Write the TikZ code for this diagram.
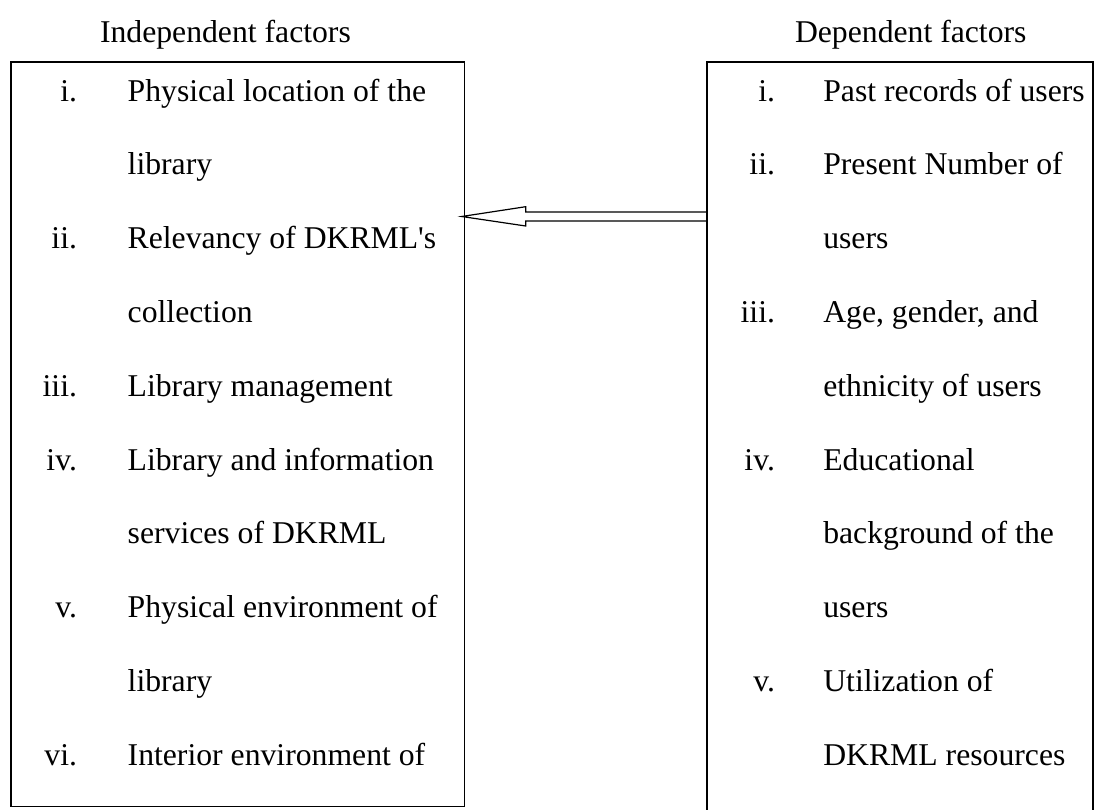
\documentclass[tikz,border=0pt]{standalone}
\usepackage{fontspec}
\setmainfont{Liberation Serif}[Ligatures=TeXOff]
\usetikzlibrary{fit,calc}
\begin{document}
\begin{tikzpicture}[x=0.5pt,y=-0.5pt,
  every node/.style={inner sep=0pt, outer sep=0pt},
  txt/.style={anchor=base west, font=\fontsize{15.85}{19}\selectfont},
  num/.style={anchor=base east, font=\fontsize{15.85}{19}\selectfont},
  boxframe/.style={draw, line width=0.6pt, inner sep=0pt},
  hollow/.style={draw, line width=0.6pt, line join=miter}]
\useasboundingbox (0,0) rectangle (1096,809);
\clip (0,0) rectangle (1096,809);

% titles
\node[txt] (ltitle) at (100,42) {Independent factors};
\node[txt] (rtitle) at (795,42) {Dependent factors};

% boxes
\node[boxframe, fit={(11,62) (464.7,806.5)}] (lbox) {};
\node[boxframe, fit={(707,62) (1093,830)}] (rbox) {};

% left list
\node[num] (ln1) at (77,101) {i.};
\node[txt] (lt1) at (127.7,101) {Physical location of the};
\node[txt] (lt1b) at (127.7,174.8) {library};
\node[num] (ln2) at (77,248.6) {ii.};
\node[txt] (lt2) at (127.7,248.6) {Relevancy of DKRML's};
\node[txt] (lt2b) at (127.7,322.4) {collection};
\node[num] (ln3) at (77,396.2) {iii.};
\node[txt] (lt3) at (127.7,396.2) {Library management};
\node[num] (ln4) at (77,470) {iv.};
\node[txt] (lt4) at (127.7,470) {Library and information};
\node[txt] (lt4b) at (127.7,543.8) {services of DKRML};
\node[num] (ln5) at (77,617.6) {v.};
\node[txt] (lt5) at (127.7,617.6) {Physical environment of};
\node[txt] (lt5b) at (127.7,691.4) {library};
\node[num] (ln6) at (77,765.2) {vi.};
\node[txt] (lt6) at (127.7,765.2) {Interior environment of};

% right list
\node[num] (rn1) at (775,101) {i.};
\node[txt] (rt1) at (823.3,101) {Past records of users};
\node[num] (rn2) at (775,174.8) {ii.};
\node[txt] (rt2) at (823.3,174.8) {Present Number of};
\node[txt] (rt2b) at (823.3,248.6) {users};
\node[num] (rn3) at (775,322.4) {iii.};
\node[txt] (rt3) at (823.3,322.4) {Age, gender, and};
\node[txt] (rt3b) at (823.3,396.2) {ethnicity of users};
\node[num] (rn4) at (775,470) {iv.};
\node[txt] (rt4) at (823.3,470) {Educational};
\node[txt] (rt4b) at (823.3,543.8) {background of the};
\node[txt] (rt4c) at (823.3,617.6) {users};
\node[num] (rn5) at (775,691.4) {v.};
\node[txt] (rt5) at (823.3,691.4) {Utilization of};
\node[txt] (rt5b) at (823.3,765.2) {DKRML resources};

% hollow arrow from right box to left box
\coordinate (ay) at (0,216.5);
\draw[hollow] ($(rbox.west|-ay)+(0,-4.5)$)
  -- ($(lbox.east|-ay)+(61,-4.5)$)
  -- ($(lbox.east|-ay)+(61,-9.8)$)
  -- ($(lbox.east|-ay)+(-3,0)$)
  -- ($(lbox.east|-ay)+(61,9.5)$)
  -- ($(lbox.east|-ay)+(61,4.5)$)
  -- ($(rbox.west|-ay)+(0,4.5)$);
\end{tikzpicture}
\end{document}
